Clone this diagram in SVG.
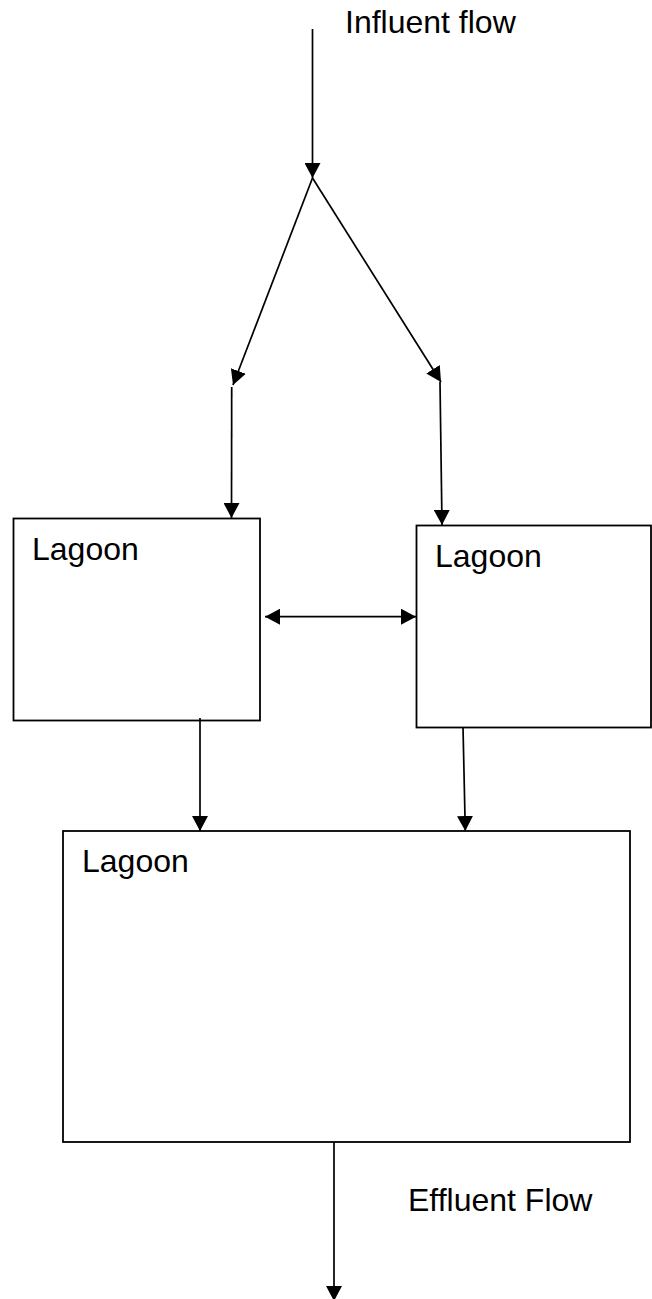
<svg xmlns="http://www.w3.org/2000/svg" width="652" height="1299" viewBox="0 0 652 1299">
  <style>
    .box { fill: #ffffff; stroke: #000000; stroke-width: 1.8; }
    .lbl { font-family: "Liberation Sans", Arial, sans-serif; font-size: 32px; fill: #000000; }
    .conn { stroke: #000000; stroke-width: 1.7; fill: none; }
  </style>
  <defs>
    <marker id="arr" markerUnits="userSpaceOnUse" markerWidth="16" markerHeight="16" refX="15" refY="8" orient="auto-start-reverse" viewBox="0 0 16 16">
      <path d="M0,0 L15,8 L0,16 z" fill="#000000"/>
    </marker>
  </defs>
  <rect width="652" height="1299" fill="#ffffff"/>

  <g id="lagoon-left">
    <rect class="box" x="13.5" y="518.5" width="246.5" height="202"/>
    <text class="lbl" x="32" y="560">Lagoon</text>
  </g>
  <g id="lagoon-right">
    <rect class="box" x="416.5" y="525.5" width="234.5" height="202"/>
    <text class="lbl" x="435" y="567">Lagoon</text>
  </g>
  <g id="lagoon-bottom">
    <rect class="box" x="63" y="831" width="567" height="311"/>
    <text class="lbl" x="82" y="872">Lagoon</text>
  </g>
  <g id="label-influent">
    <text class="lbl" x="345" y="33">Influent flow</text>
  </g>
  <g id="label-effluent">
    <text class="lbl" x="408" y="1211">Effluent Flow</text>
  </g>

  <g id="connectors">
    <line class="conn" x1="312.5" y1="29" x2="312.5" y2="178" marker-end="url(#arr)"/>
    <line class="conn" x1="312.5" y1="178" x2="233" y2="385" marker-end="url(#arr)"/>
    <line class="conn" x1="312.5" y1="178" x2="441" y2="382" marker-end="url(#arr)"/>
    <line class="conn" x1="231.7" y1="387" x2="231.5" y2="518" marker-end="url(#arr)"/>
    <line class="conn" x1="440" y1="382" x2="442" y2="525" marker-end="url(#arr)"/>
    <line class="conn" x1="265" y1="616.7" x2="416" y2="616.7" marker-start="url(#arr)" marker-end="url(#arr)"/>
    <line class="conn" x1="200" y1="718" x2="200" y2="831" marker-end="url(#arr)"/>
    <line class="conn" x1="463" y1="727" x2="465.3" y2="831" marker-end="url(#arr)"/>
    <line class="conn" x1="334" y1="1142" x2="334" y2="1301" marker-end="url(#arr)"/>
  </g>
</svg>
